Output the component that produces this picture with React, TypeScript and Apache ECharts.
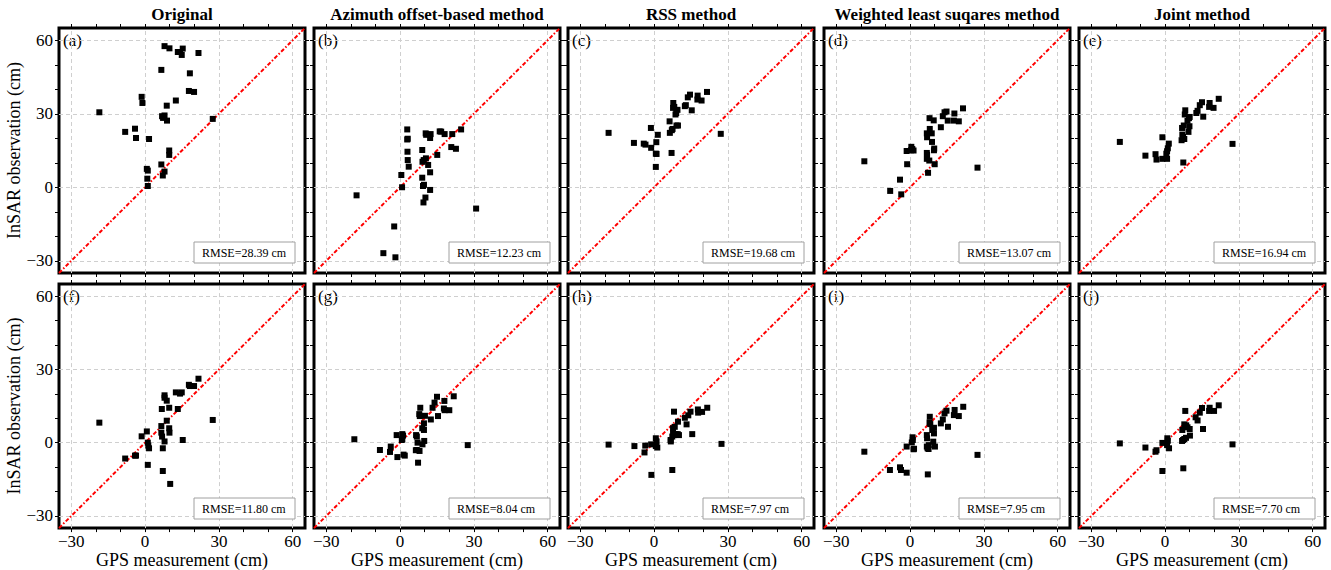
import React, { useEffect, useRef } from "react";
import * as echarts from "echarts";

const titles = [
  "Original",
  "Azimuth offset-based method",
  "RSS method",
  "Weighted least suqares method",
  "Joint method",
];
const panelLetters = ["(a)", "(b)", "(c)", "(d)", "(e)", "(f)", "(g)", "(h)", "(i)", "(j)"];
const rmseLabels = [
  "RMSE=28.39 cm", "RMSE=12.23 cm", "RMSE=19.68 cm", "RMSE=13.07 cm", "RMSE=16.94 cm",
  "RMSE=11.80 cm", "RMSE=8.04 cm", "RMSE=7.97 cm", "RMSE=7.95 cm", "RMSE=7.70 cm",
];
const axisMin = -35;
const axisMax = 65;
const labelTicks = [-30, 0, 30, 60];
const minorTicks = [-30, -20, -10, 0, 10, 20, 30, 40, 50, 60];
const gridValues = [-30, 0, 30, 60];
const diagonal = [[-35, -35], [65, 65]];

// Row 1 (uncorrected), [GPS, InSAR] in cm
const pointsA = [[-18.6,30.6],[-8.1,22.6],[-4.1,23.9],[-3.7,20.1],[-1.4,36.9],[-1.1,34.4],[1.6,19.7],[0.7,7.5],[1.1,6.8],[0.9,3.5],[1.1,0.5],[6.6,47.9],[7.9,57.6],[9.9,56.7],[8.8,33.3],[6.9,29.0],[7.9,29.3],[7.3,28.3],[8.9,27.2],[6.6,9.3],[7.9,6.4],[7.2,4.8],[9.8,15.0],[9.8,13.2],[12.5,35.4],[13.3,55.2],[14.9,54.0],[15.3,56.6],[14.2,55.2],[17.8,39.3],[18.2,46.5],[19.9,38.9],[21.7,54.8],[27.5,27.9]];
const pointsB = [[-17.7,-3.3],[-2.4,-16.0],[-6.8,-26.9],[-1.9,-28.6],[0.5,5.0],[0.8,0],[2.9,23.6],[2.9,19.5],[3.1,19.8],[3.0,14.5],[3.1,11.1],[3.5,8.4],[9.0,15.2],[9.1,10.4],[9.6,11.1],[10.5,11.8],[11.4,9.1],[9.0,3.9],[9.3,0.5],[9.7,1.0],[12.2,6.1],[12.2,-1.1],[10.3,-4.2],[9.5,-6.2],[10.4,22.0],[10.6,21.4],[12.4,21.7],[12.2,20.1],[15.1,13.2],[16.1,22.8],[16.7,22.7],[18.1,21.7],[21.2,21.7],[20.8,16.4],[22.7,15.7],[24.8,23.6],[30.9,-8.7]];
const pointsC = [[-18.5,22.2],[-8.2,18.1],[-4.2,17.8],[-3.5,17.4],[-1.3,24.2],[-1.2,16.1],[1.5,21.4],[0.9,18.4],[0.7,13.7],[1.0,13.6],[0.7,8.3],[6.3,26.9],[6.4,22.2],[7.2,23.3],[7.5,23.8],[7.1,14.0],[7.8,34.4],[7.7,32.4],[8.2,32.8],[9.1,25.2],[9.7,25.2],[9.0,30.3],[9.5,31.6],[8.7,29.7],[12.5,33.1],[12.9,33.5],[13.7,36.7],[14.6,37.8],[15.3,31.4],[17.7,37.4],[17.6,35.8],[19.3,35.4],[21.5,38.9],[27.1,21.8]];
const pointsD = [[-18.6,10.6],[-8.1,-1.5],[-4.1,3.1],[-3.6,-2.9],[-1.4,14.8],[-1.2,9.4],[0.5,16.5],[0.9,15.6],[1.4,15.0],[0.4,15.1],[7.9,28.2],[9.6,27.3],[6.8,22.0],[6.9,20.4],[8.0,23.8],[8.8,22.0],[8.9,18.5],[9.8,15.8],[9.7,15.1],[6.8,14.0],[6.9,13.2],[6.8,11.6],[7.8,10.9],[7.3,5.9],[10.0,9.4],[12.5,24.5],[13.3,29.0],[14.0,30.6],[14.8,30.9],[15.3,27.2],[18.0,30.1],[17.8,27.2],[19.8,26.9],[21.5,32.2],[27.4,8.0]];
const pointsE = [[-18.4,18.5],[-8.0,12.9],[-3.9,13.5],[-3.5,11.3],[-1.1,20.4],[-1.1,11.6],[0.8,11.6],[0.5,13.7],[1.1,15.9],[1.5,17.8],[0.8,14.7],[7.4,10.1],[6.7,19.2],[7.3,20.5],[7.8,19.7],[7.0,21.5],[6.9,24.2],[7.6,25.2],[8.2,31.4],[8.0,29.7],[9.7,28.2],[10.0,28.7],[9.1,27.1],[9.9,24.9],[9.5,22.6],[12.7,30.3],[13.2,31.2],[14.1,33.5],[15.0,34.7],[15.5,28.8],[18.1,34.4],[17.9,32.8],[19.7,32.4],[21.8,36.1],[27.4,17.7]];
// Row 2 (corrected)
const pointsF = [[-18.6,8.2],[-8.1,-6.5],[-4.1,-5.3],[-3.7,-5.3],[-1.4,2.6],[0.7,4.6],[1.1,0],[1.3,-1.2],[1.6,-2.3],[1.1,-9.1],[6.8,13.8],[7.2,-11.6],[7.2,-2.3],[6.6,6.8],[6.6,4.1],[6.9,2.5],[7.9,19.4],[7.9,18.4],[8.8,17.2],[7.9,0.5],[8.8,9.0],[9.8,14.3],[9.8,5.9],[9.9,4.1],[10.2,-16.9],[12.5,20.6],[13.3,13.8],[14.2,20.1],[14.9,20.6],[15.3,1.1],[17.8,23.7],[18.2,23.2],[19.9,23.2],[21.7,26.2],[27.5,9.3]];
const pointsG = [[-18.6,1.4],[-8.2,-3.0],[-3.8,-1.6],[-4.1,-3.8],[-1.4,3.1],[-1.1,-5.9],[0.9,3.5],[1.2,2.9],[0.7,1.1],[0.9,1.5],[1.4,-4.9],[1.9,-5.3],[6.5,3.1],[6.8,2.5],[7.1,0],[6.8,-3.0],[6.4,-3.1],[7.3,-8.2],[7.9,-3.4],[8.2,14.3],[7.8,11.7],[8.0,10.9],[9.0,5.9],[9.7,5.2],[9.1,-0.7],[9.8,0.7],[9.7,7.9],[10.1,11.0],[12.5,9.5],[13.2,14.3],[14.0,16.4],[15.0,18.8],[15.4,10.9],[17.8,14.0],[18.0,17.1],[18.1,13.3],[20.0,13.3],[21.8,19.0],[27.5,-1.0]];
const pointsH = [[-18.5,-0.8],[-8.0,-1.4],[-3.6,-1.2],[-3.9,-4.0],[-1.1,-13.2],[-1.2,-0.7],[0.7,1.8],[1.0,0.5],[0.7,-1.4],[1.3,-2.0],[0.8,-1.0],[8.1,12.7],[7.4,-11.2],[6.7,1.1],[6.8,0.5],[7.4,2.5],[8.1,3.1],[7.7,5.9],[8.4,6.5],[7.7,3.8],[8.8,3.5],[9.7,8.6],[9.6,3.5],[10.1,3.1],[12.5,10.2],[13.2,7.5],[13.9,11.2],[14.8,12.7],[15.5,3.5],[17.8,13.6],[17.9,12.3],[19.5,12.6],[21.6,14.3],[27.4,-0.5]];
const pointsI = [[-18.6,-3.7],[-8.2,-11.2],[-4.1,-10.1],[-3.7,-11.2],[-1.4,-12.3],[-1.4,-1.6],[1.0,2.2],[1.1,1.1],[0.7,0.1],[1.4,-2.7],[1.6,-2.5],[7.2,-13.0],[6.8,3.1],[6.9,1.8],[6.8,-1.6],[7.6,-1.0],[7.1,-2.3],[7.5,-2.6],[8.0,10.6],[7.9,8.2],[8.2,7.6],[9.0,5.2],[9.7,6.1],[9.7,3.8],[9.4,0.4],[10.1,-1.6],[12.5,7.9],[13.3,9.5],[14.0,12.0],[14.8,13.1],[15.4,6.5],[18.1,13.4],[17.8,11.3],[19.8,10.9],[21.6,14.7],[27.4,-5.0]];
const pointsJ = [[-18.4,-0.3],[-8.0,-2.0],[-3.9,-3.7],[-3.5,-3.1],[-1.1,-11.6],[-1.1,-0.1],[0.9,1.8],[1.1,0.8],[0.8,-1.0],[1.6,-2.3],[7.4,-10.5],[8.2,13.0],[6.9,0.7],[7.3,1.1],[7.8,1.5],[8.5,2.0],[7.0,5.2],[7.8,7.5],[8.6,7.1],[10.1,2.9],[9.1,6.3],[10.0,5.6],[12.4,10.4],[13.2,9.1],[14.1,12.3],[15.0,14.2],[15.4,5.6],[18.1,14.3],[17.9,13.0],[19.9,13.0],[21.8,15.3],[27.4,-0.7]];

const panels = [pointsA, pointsB, pointsC, pointsD, pointsE, pointsF, pointsG, pointsH, pointsI, pointsJ];

const FONT = '"Liberation Serif", "Times New Roman", serif';
const fmt = (v: number) => (v < 0 ? "\u2212" + Math.abs(v) : String(v));

function buildOption() {
  const lefts = [59, 314, 568, 824, 1079];
  const tops = [28, 284];
  const W = 246;
  const H = 245;
  const grid: any[] = [];
  const xAxis: any[] = [];
  const yAxis: any[] = [];
  const series: any[] = [];
  const graphic: any[] = [];

  const tickCommon = {
    show: true,
    inside: false,
    length: 4,
    customValues: minorTicks,
    lineStyle: { color: "#000", width: 1 },
  };
  const lineOff = { show: false, onZero: false };

  panels.forEach((pts, idx) => {
    const r = Math.floor(idx / 5);
    const c = idx % 5;
    const left = lefts[c];
    const top = tops[r];
    grid.push({
      left, top, width: W, height: H,
      show: true, borderColor: "#000", borderWidth: 3,
      backgroundColor: "rgba(0,0,0,0)",
    });
    const xBase = {
      type: "value", gridIndex: idx, min: axisMin, max: axisMax,
      axisLine: lineOff, splitLine: { show: false },
      axisTick: tickCommon,
    };
    xAxis.push({
      ...xBase, position: "bottom",
      axisLabel: {
        show: r === 1, customValues: labelTicks, formatter: fmt,
        fontSize: 17, color: "#000", margin: 5, fontFamily: FONT,
      },
      name: r === 1 ? "GPS measurement (cm)" : "",
      nameLocation: "middle", nameGap: 17,
      nameTextStyle: { fontSize: 18, color: "#000", fontFamily: FONT },
    });
    xAxis.push({ ...xBase, position: "top", axisLabel: { show: false } });
    const yBase = {
      type: "value", gridIndex: idx, min: axisMin, max: axisMax,
      axisLine: lineOff, splitLine: { show: false },
      axisTick: tickCommon,
    };
    yAxis.push({
      ...yBase, position: "left",
      axisLabel: {
        show: c === 0, customValues: labelTicks, formatter: fmt,
        fontSize: 17, color: "#000", margin: 6, fontFamily: FONT,
      },
      name: c === 0 ? "InSAR observation (cm)" : "",
      nameLocation: "middle", nameGap: 33,
      nameTextStyle: { fontSize: 18, color: "#000", fontFamily: FONT },
    });
    yAxis.push({ ...yBase, position: "right", axisLabel: { show: false } });

    const xi = 2 * idx;
    const yi = 2 * idx;
    series.push({
      type: "line", xAxisIndex: xi, yAxisIndex: yi, data: [], z: 1,
      markLine: {
        z: 1, silent: true, animation: false, symbol: ["none", "none"],
        label: { show: false },
        lineStyle: { color: "#cfcfcf", width: 1, type: [4, 3] },
        data: [
          ...gridValues.map((v) => ({ xAxis: v })),
          ...gridValues.map((v) => ({ yAxis: v })),
        ],
      },
    });
    series.push({
      type: "line", xAxisIndex: xi, yAxisIndex: yi, data: diagonal, z: 2,
      symbol: "none", silent: true,
      lineStyle: { color: "#ff0000", width: 2, type: [4, 2, 1.5, 2] },
    });
    series.push({
      type: "scatter", xAxisIndex: xi, yAxisIndex: yi, data: pts, z: 10,
      symbol: "rect", symbolSize: 6, itemStyle: { color: "#000", opacity: 1 }, silent: true,
    });

    if (r === 0) {
      graphic.push({
        type: "text", x: left + W / 2, y: 14.5, silent: true,
        style: {
          text: titles[c], fill: "#000", align: "center", verticalAlign: "middle",
          fontSize: 17, fontWeight: "bold", fontFamily: FONT,
        },
      });
    }
    graphic.push({
      type: "text", x: left + 4, y: top + 4, silent: true,
      style: {
        text: panelLetters[idx], fill: "#000", align: "left", verticalAlign: "top",
        fontSize: 17, fontFamily: FONT,
      },
    });
    const bx = left + W - 10 - 101;
    const by = top + H - 10 - 21;
    graphic.push({
      type: "rect", silent: true, z: 20,
      shape: { x: bx, y: by, width: 101, height: 21 },
      style: { fill: "#fff", stroke: "#a0a0a0", lineWidth: 1 },
    });
    graphic.push({
      type: "text", x: bx + 8, y: by + 11, silent: true, z: 21,
      style: {
        text: rmseLabels[idx], fill: "#000", align: "left", verticalAlign: "middle",
        fontSize: 12, fontFamily: FONT,
      },
    });
  });

  return {
    animation: false,
    backgroundColor: "#fff",
    textStyle: { fontFamily: FONT },
    grid, xAxis, yAxis, series, graphic,
  };
}

export default function App() {
  const ref = useRef<HTMLDivElement>(null);
  useEffect(() => {
    if (!ref.current) return;
    const chart = echarts.init(ref.current, undefined, { renderer: "svg" });
    chart.setOption(buildOption() as any);
    return () => chart.dispose();
  }, []);
  return (
    <div
      ref={ref}
      style={{ position: "absolute", left: 0, top: 0, width: 1331, height: 570 }}
    />
  );
}
